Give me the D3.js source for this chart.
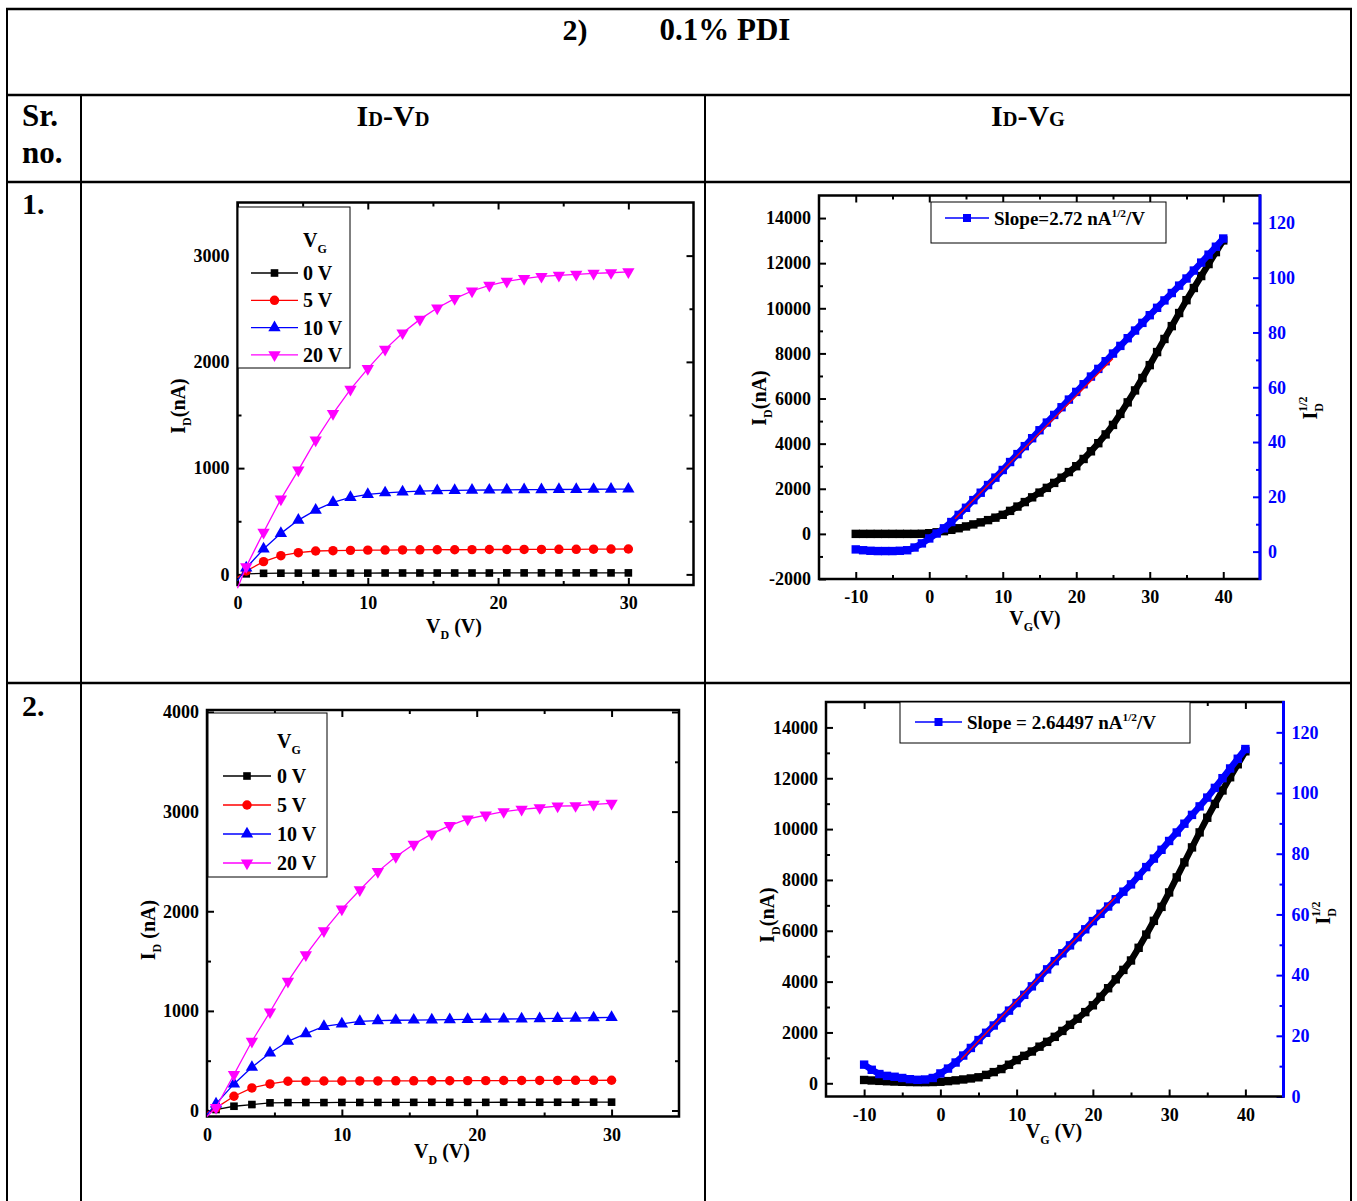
<!DOCTYPE html>
<html><head><meta charset="utf-8">
<script src="https://cdn.jsdelivr.net/npm/d3@7"></script>
<style>body{margin:0;background:#fff}</style>
</head><body><svg id="c" width="1357" height="1201" xmlns="http://www.w3.org/2000/svg"></svg>
<script>
// ---------------- DATA ----------------
const vd = [0, 0.67, 2, 3.33, 4.67, 6, 7.33, 8.67, 10, 11.33, 12.67, 14, 15.33, 16.67, 18, 19.33, 20.67, 22, 23.33, 24.67, 26, 27.33, 28.67, 30];
const vgLabels = ["0 V", "5 V", "10 V", "20 V"];
// Row 1, ID-VD (nA)
const r1_vg0  = [-10, 5, 10, 11, 12, 12, 12, 12, 12, 13, 13, 13, 13, 13, 13, 13, 14, 14, 14, 14, 14, 14, 14, 14];
const r1_vg5  = [-30, 32, 120, 176, 204, 220, 223, 226, 228, 229, 230, 231, 232, 232, 233, 234, 234, 235, 235, 236, 236, 237, 238, 239];
const r1_vg10 = [-60, 60, 239, 386, 511, 605, 677, 725, 753, 768, 777, 784, 788, 790, 792, 794, 795, 797, 798, 799, 800, 801, 802, 803];
const r1_vg20 = [-130, 72, 396, 708, 981, 1263, 1514, 1742, 1937, 2118, 2272, 2400, 2507, 2595, 2667, 2720, 2758, 2783, 2804, 2814, 2823, 2833, 2839, 2848];
// Row 2, ID-VD (nA)
const r2_vg0  = [-5, 10, 43, 60, 77, 80, 80, 80, 81, 81, 81, 81, 82, 82, 82, 82, 82, 83, 83, 83, 83, 83, 84, 84];
const r2_vg5  = [-20, 27, 143, 227, 267, 294, 295, 296, 296, 297, 297, 298, 298, 299, 299, 300, 300, 301, 301, 302, 302, 303, 303, 304];
const r2_vg10 = [-40, 67, 267, 434, 578, 695, 772, 845, 869, 895, 902, 906, 908, 910, 912, 914, 916, 918, 920, 922, 924, 928, 931, 935];
const r2_vg20 = [-60, 30, 361, 695, 989, 1296, 1563, 1804, 2021, 2214, 2398, 2548, 2672, 2776, 2859, 2926, 2966, 2999, 3023, 3039, 3056, 3059, 3073, 3083];

// ID-VG sweeps (V_G from -10 to 40 V, 1 V step)
const vg = [-10,-9,-8,-7,-6,-5,-4,-3,-2,-1,0,1,2,3,4,5,6,7,8,9,10,11,12,13,14,15,16,17,18,19,20,21,22,23,24,25,26,27,28,29,30,31,32,33,34,35,36,37,38,39,40];
const r1_id = [0,0,0,0,0,0,0,0,0,5, 30,70,120,180,250,330,420,510,610,720,845,1020,1210,1410,1620,1830,2040,2260,2490,2740,3000,3320,3660,4020,4410,4830,5320,5830,6360,6910,7480,8060,8640,9210,9790,10360,10900,11430,11960,12490,13010];
const r1_sqrt = [0.8,0.5,0.3,0.2,0.2,0.2,0.3,0.5,1.5,3, 4.8,6.6,8.5,10.8,13.4,16,18.8,21.5,24.3,27,29.8,32.7,35.6,38.5,41.4,44.3,47.1,49.9,52.7,55.5,58.3,61.1,63.9,66.7,69.5,72.3,75.1,77.9,80.7,83.5,86.3,89,91.7,94.4,97.1,99.7,102.6,105.5,108.4,111.3,114.3];
const r1_fitX = [3.5, 25];
const r1_fitY = [12, 70.5];
const r1_slopeLabel = "Slope=2.72 nA";
const r2_id = [130,110,95,80,68,58,50,45,45,50, 60,85,115,150,190,235,330,440,560,730,913,1080,1250,1440,1630,1827,2060,2300,2540,2800,3068,3400,3740,4090,4460,4831,5330,5850,6390,6940,7508,8100,8690,9280,9870,10447,10990,11520,12040,12550,13060];
const r2_sqrt = [10.5,8.8,7.4,6.8,6.5,6.1,5.7,5.5,5.6,6.1, 7.6,9.2,11.2,13.5,16,18.6,21,23.4,25.9,28.3,30.8,33.5,36.3,39.1,41.9,44.6,47.2,49.8,52.5,55.1,57.8,60.2,62.6,65,67.5,69.9,72.7,75.6,78.4,81.3,84.2,87,89.9,92.8,95.6,98.5,101.7,104.9,108.1,111.3,114.5];
const r2_fitX = [2.7, 23];
const r2_fitY = [12.2, 65.8];
const r2_slopeLabel = "Slope = 2.64497 nA";

// tick values
const vdMajor = [0, 10, 20, 30], vdMinor = [5, 15, 25];
const r1_idMajor = [0, 1000, 2000, 3000], r1_idMinor = [500, 1500, 2500];
const r2_idMajor = [0, 1000, 2000, 3000, 4000], r2_idMinor = [500, 1500, 2500, 3500];
const vgMajor = [-10, 0, 10, 20, 30, 40], vgMinor = [-5, 5, 15, 25, 35];
const r1_idgMajor = [-2000, 0, 2000, 4000, 6000, 8000, 10000, 12000, 14000];
const r1_idgMinor = [-1000, 1000, 3000, 5000, 7000, 9000, 11000, 13000];
const r2_idgMajor = [0, 2000, 4000, 6000, 8000, 10000, 12000, 14000];
const r2_idgMinor = [1000, 3000, 5000, 7000, 9000, 11000, 13000];
const sqrtMajor = [0, 20, 40, 60, 80, 100, 120], sqrtMinor = [10, 30, 50, 70, 90, 110];

// ---------------- DRAW ----------------
const FONT = '"Liberation Serif","Times New Roman",Times,serif';
const svg = d3.select("#c");
svg.append("rect").attr("width", 1357).attr("height", 1201).attr("fill", "#fff");

function rich(g, x, y, parts, size, opt = {}) {
  const t = g.append("text").attr("x", x).attr("y", y)
    .attr("font-family", FONT).attr("font-weight", "bold").attr("font-size", size)
    .attr("text-anchor", opt.anchor || "start").attr("fill", opt.fill || "#000");
  if (opt.rotate) t.attr("transform", `rotate(-90,${x},${y})`);
  let cur = 0;
  parts.forEach(p => {
    const [txt, kind] = p;
    const ts = t.append("tspan").text(txt);
    let target = 0, fs = size;
    if (kind === "sub") { target = size * 0.28; fs = size * 0.6; }
    if (kind === "sup") { target = -size * 0.42; fs = size * 0.6; }
    if (kind === "small") { target = 0; fs = size * 0.68; }
    if (kind === "supover") { target = -size * 0.5; fs = size * 0.6; ts.attr("dx", -size * 0.6 * 0.72); }
    ts.attr("font-size", fs).attr("dy", target - cur);
    cur = target;
  });
  return t;
}

// table
const tbl = svg.append("g").attr("stroke", "#000");
const hl = (y, w) => tbl.append("line").attr("x1", 6).attr("x2", 1352).attr("y1", y).attr("y2", y).attr("stroke-width", w);
const vl = (x, y1, y2, w) => tbl.append("line").attr("x1", x).attr("x2", x).attr("y1", y1).attr("y2", y2).attr("stroke-width", w);
hl(9, 2.5); hl(95, 2.5); hl(182, 2.5); hl(683, 2.5);
vl(7, 8, 1201, 2); vl(1351, 8, 1201, 2); vl(81, 95, 1201, 2); vl(705, 95, 1201, 2);

const T = svg.append("g");
rich(T, 575, 40, [["2)", "n"]], 30, { anchor: "middle" });
rich(T, 725, 40, [["0.1% PDI", "n"]], 31, { anchor: "middle" });
rich(T, 22, 126, [["Sr.", "n"]], 31);
rich(T, 22, 163, [["no.", "n"]], 31);
rich(T, 393, 126, [["I", "n"], ["D", "small"], ["-V", "n"], ["D", "small"]], 30, { anchor: "middle" });
rich(T, 1028, 126, [["I", "n"], ["D", "small"], ["-V", "n"], ["G", "small"]], 30, { anchor: "middle" });
rich(T, 22, 214, [["1.", "n"]], 30);
rich(T, 22, 716, [["2.", "n"]], 30);

const fmt = d => String(d);
function axis(g, gen, tx, ty, vals, len, pad, labels, color) {
  const a = g.append("g").attr("transform", `translate(${tx},${ty})`)
    .call(gen.tickValues(vals).tickSize(-len).tickPadding(pad).tickFormat(labels ? fmt : () => ""));
  a.select(".domain").remove();
  a.attr("font-family", FONT).attr("font-size", 18).attr("font-weight", "bold");
  a.selectAll("line").attr("stroke", color || "#000").attr("stroke-width", 2);
  a.selectAll("text").attr("fill", color || "#000");
  return a;
}

function frame(o) {
  const g = svg.append("g");
  const x = d3.scaleLinear().domain(o.xd).range([o.L, o.R]);
  const y = d3.scaleLinear().domain(o.yd).range([o.B, o.T]);
  axis(g, d3.axisBottom(x), 0, o.B, o.xMaj, 7, o.xpad, true);
  axis(g, d3.axisBottom(x), 0, o.B, o.xMin, 4, 0, false);
  axis(g, d3.axisTop(x), 0, o.T, o.xMaj, 7, 0, false);
  axis(g, d3.axisTop(x), 0, o.T, o.xMin, 4, 0, false);
  axis(g, d3.axisLeft(y), o.L, 0, o.yMaj, 7, 8, true);
  axis(g, d3.axisLeft(y), o.L, 0, o.yMin, 4, 0, false);
  let yR = null;
  if (o.yRd) {
    yR = d3.scaleLinear().domain(o.yRd).range([o.B, o.T]);
    axis(g, d3.axisRight(yR), o.R, 0, o.yRMaj, 7, 8, true, "#0000ff");
    axis(g, d3.axisRight(yR), o.R, 0, o.yRMin, 4, 0, false, "#0000ff");
  } else {
    axis(g, d3.axisRight(y), o.R, 0, o.yMaj, 7, 0, false);
    axis(g, d3.axisRight(y), o.R, 0, o.yMin, 4, 0, false);
  }
  g.append("rect").attr("x", o.L).attr("y", o.T).attr("width", o.R - o.L).attr("height", o.B - o.T)
    .attr("fill", "none").attr("stroke", "#000").attr("stroke-width", 2.5);
  if (o.yRd) g.append("line").attr("x1", o.R).attr("x2", o.R).attr("y1", o.T - 1).attr("y2", o.B + 1)
    .attr("stroke", "#0000ff").attr("stroke-width", 3);
  return { g, x, y, yR };
}

const sym = {
  sq: d3.symbol().type(d3.symbolSquare).size(58)(),
  ci: d3.symbol().type(d3.symbolCircle).size(70)(),
  up: d3.symbol().type(d3.symbolTriangle).size(66)(),
};
const shapes = [
  { color: "#000000", path: sym.sq, rot: 0 },
  { color: "#ff0000", path: sym.ci, rot: 0 },
  { color: "#0000ff", path: sym.up, rot: 0 },
  { color: "#ff00ff", path: sym.up, rot: 180 },
];

function outputChart(o, series) {
  const c = frame(o);
  const line = d3.line().x((d, i) => c.x(vd[i])).y(d => c.y(d));
  series.forEach((s, k) => {
    const st = shapes[k];
    c.g.append("path").attr("d", line(s)).attr("fill", "none").attr("stroke", st.color).attr("stroke-width", 1.3);
    c.g.selectAll(null).data(s.map((v, i) => [vd[i], v]).filter(d => d[0] > 0)).enter().append("path")
      .attr("d", st.path).attr("fill", st.color)
      .attr("transform", d => `translate(${c.x(d[0])},${c.y(d[1])}) rotate(${st.rot})`);
  });
  const lg = o.leg;
  c.g.append("rect").attr("x", lg.x0).attr("y", lg.y0).attr("width", lg.x1 - lg.x0).attr("height", lg.y1 - lg.y0)
    .attr("fill", "#fff").attr("stroke", "#000").attr("stroke-width", 1);
  rich(c.g, lg.tx, lg.titleY, [["V", "n"], ["G", "sub"]], 20);
  vgLabels.forEach((lab, k) => {
    const st = shapes[k], yy = lg.ey0 + k * lg.dy;
    c.g.append("line").attr("x1", lg.lx0).attr("x2", lg.lx1).attr("y1", yy).attr("y2", yy).attr("stroke", st.color).attr("stroke-width", 1.3);
    c.g.append("path").attr("d", st.path).attr("fill", st.color).attr("transform", `translate(${(lg.lx0 + lg.lx1) / 2},${yy}) rotate(${st.rot})`);
    rich(c.g, lg.tx, yy + 7, [[lab, "n"]], 20);
  });
  rich(c.g, o.xtX, o.xtY, o.xTitle, 20, { anchor: "middle" });
  rich(c.g, o.ytX, o.ytY, o.yTitle, 20, { anchor: "middle", rotate: true });
  return c;
}

function transferChart(o, id, sq, fx, fy, slopeLabel) {
  const c = frame(o);
  const lineL = d3.line().x((d, i) => c.x(vg[i])).y(d => c.y(d));
  const lineR = d3.line().x((d, i) => c.x(vg[i])).y(d => c.yR(d));
  const s = 8.4;
  c.g.append("path").attr("d", lineL(id)).attr("fill", "none").attr("stroke", "#000").attr("stroke-width", 6.5);
  c.g.selectAll(null).data(id).enter().append("rect")
    .attr("x", (d, i) => c.x(vg[i]) - s / 2).attr("y", d => c.y(d) - s / 2).attr("width", s).attr("height", s).attr("fill", "#000");
  c.g.append("path").attr("d", lineR(sq)).attr("fill", "none").attr("stroke", "#0000ff").attr("stroke-width", 6.5);
  c.g.selectAll(null).data(sq).enter().append("rect")
    .attr("x", (d, i) => c.x(vg[i]) - s / 2).attr("y", d => c.yR(d) - s / 2).attr("width", s).attr("height", s).attr("fill", "#0000ff");
  c.g.append("line").attr("x1", c.x(fx[0])).attr("x2", c.x(fx[1])).attr("y1", c.yR(fy[0])).attr("y2", c.yR(fy[1]))
    .attr("stroke", "#ff0000").attr("stroke-width", 1.3);
  const lg = o.leg;
  c.g.append("rect").attr("x", lg.x0).attr("y", lg.y0).attr("width", lg.x1 - lg.x0).attr("height", lg.y1 - lg.y0)
    .attr("fill", "#fff").attr("stroke", "#000").attr("stroke-width", 1);
  c.g.append("line").attr("x1", lg.lx0).attr("x2", lg.lx1).attr("y1", lg.ey).attr("y2", lg.ey).attr("stroke", "#0000ff").attr("stroke-width", 1.3);
  c.g.append("rect").attr("x", (lg.lx0 + lg.lx1) / 2 - 4).attr("y", lg.ey - 4).attr("width", 8).attr("height", 8).attr("fill", "#0000ff");
  rich(c.g, lg.tx, lg.ey + 7, [[slopeLabel, "n"], ["1/2", "sup"], ["/V", "n"]], 19);
  rich(c.g, o.xtX, o.xtY, o.xTitle, 20, { anchor: "middle" });
  rich(c.g, o.ytX, o.ytY, o.yTitle, 20, { anchor: "middle", rotate: true });
  rich(c.g, o.rtX, o.rtY, [["I", "n"], ["D", "sub"], ["1/2", "supover"]], 20, { anchor: "middle", rotate: true });
  return c;
}

outputChart({
  L: 237.5, R: 693.5, T: 202.5, B: 585, xd: [0, 35], yd: [-100, 3500],
  xMaj: vdMajor, xMin: vdMinor, yMaj: r1_idMajor, yMin: r1_idMinor, xpad: 11,
  leg: { x0: 238, y0: 207, x1: 350, y1: 368, tx: 303, titleY: 247, ey0: 273, dy: 27.3, lx0: 251, lx1: 298 },
  xTitle: [["V", "n"], ["D", "sub"], [" (V)", "n"]], xtX: 454, xtY: 633,
  yTitle: [["I", "n"], ["D", "sub"], ["(nA)", "n"]], ytX: 185, ytY: 406,
}, [r1_vg0, r1_vg5, r1_vg10, r1_vg20]);

outputChart({
  L: 207, R: 679, T: 710, B: 1116.5, xd: [0, 35], yd: [-60, 4020],
  xMaj: vdMajor, xMin: vdMinor, yMaj: r2_idMajor, yMin: r2_idMinor, xpad: 12,
  leg: { x0: 208, y0: 713, x1: 327, y1: 877, tx: 277, titleY: 748, ey0: 776, dy: 29, lx0: 223, lx1: 271 },
  xTitle: [["V", "n"], ["D", "sub"], [" (V)", "n"]], xtX: 442, xtY: 1158,
  yTitle: [["I", "n"], ["D", "sub"], [" (nA)", "n"]], ytX: 155, ytY: 930,
}, [r2_vg0, r2_vg5, r2_vg10, r2_vg20]);

transferChart({
  L: 819, R: 1260, T: 195.5, B: 579, xd: [-15, 45], yd: [-2000, 15000], yRd: [-10, 130],
  xMaj: vgMajor, xMin: vgMinor, yMaj: r1_idgMajor, yMin: r1_idgMinor, yRMaj: sqrtMajor, yRMin: sqrtMinor, xpad: 11,
  leg: { x0: 931, y0: 202, x1: 1166, y1: 243, lx0: 945, lx1: 989, ey: 218, tx: 994 },
  xTitle: [["V", "n"], ["G", "sub"], ["(V)", "n"]], xtX: 1035, xtY: 625,
  yTitle: [["I", "n"], ["D", "sub"], ["(nA)", "n"]], ytX: 766, ytY: 398,
  rtX: 1317, rtY: 408,
}, r1_id, r1_sqrt, r1_fitX, r1_fitY, r1_slopeLabel);

transferChart({
  L: 826, R: 1283.5, T: 702, B: 1096.5, xd: [-15, 45], yd: [-520, 15000], yRd: [0, 130],
  xMaj: vgMajor, xMin: vgMinor, yMaj: r2_idgMajor, yMin: r2_idgMinor, yRMaj: sqrtMajor, yRMin: sqrtMinor, xpad: 12,
  leg: { x0: 900, y0: 702, x1: 1190, y1: 743, lx0: 915, lx1: 962, ey: 722, tx: 967 },
  xTitle: [["V", "n"], ["G", "sub"], [" (V)", "n"]], xtX: 1054, xtY: 1138,
  yTitle: [["I", "n"], ["D", "sub"], ["(nA)", "n"]], ytX: 774, ytY: 915,
  rtX: 1330, rtY: 913,
}, r2_id, r2_sqrt, r2_fitX, r2_fitY, r2_slopeLabel);
</script>
</body></html>
